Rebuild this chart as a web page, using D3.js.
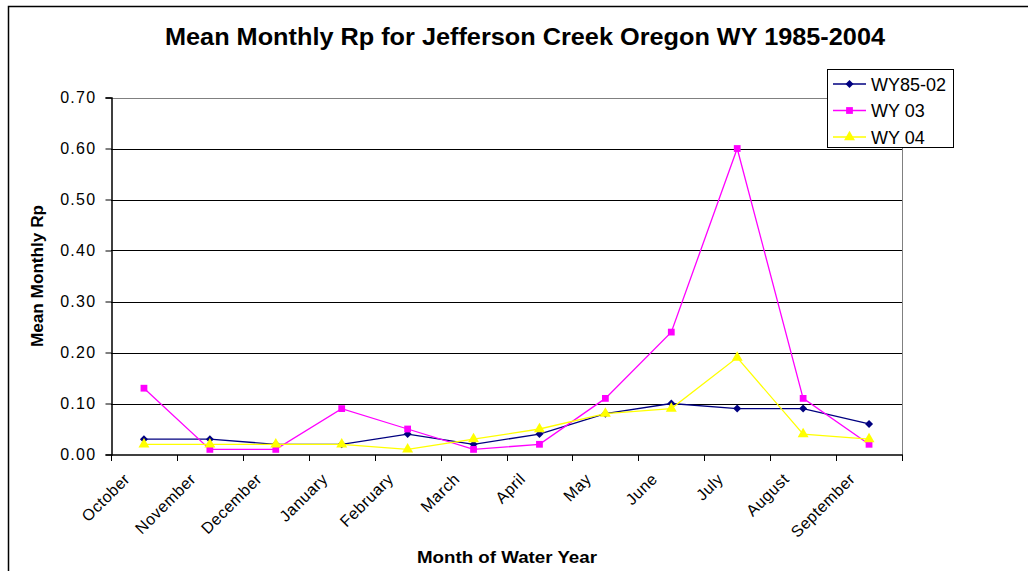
<!DOCTYPE html>
<html>
<head>
<meta charset="utf-8">
<script src="https://cdn.jsdelivr.net/npm/d3@7"></script>
<style>
body { margin: 0; background: #fff; }
svg { font-family: "Liberation Sans", Arial, sans-serif; }
</style>
</head>
<body>
<script>
var months = ["October","November","December","January","February","March","April","May","June","July","August","September"];
var wy8502 = [0.03,0.03,0.02,0.02,0.04,0.02,0.04,0.08,0.10,0.09,0.09,0.06];
var wy03 = [0.13,0.01,0.01,0.09,0.05,0.01,0.02,0.11,0.24,0.60,0.11,0.02];
var wy04 = [0.02,0.02,0.02,0.02,0.01,0.03,0.05,0.08,0.09,0.19,0.04,0.03];
var yTicks = [0,0.1,0.2,0.3,0.4,0.5,0.6,0.7];

// diamond = square turned 45 degrees
var series = [
    {name: "WY85-02", values: wy8502, color: "#000080", symbol: d3.symbolSquare, size: 32, rot: 45},
    {name: "WY 03", values: wy03, color: "#ff00ff", symbol: d3.symbolSquare, size: 46, rot: 0},
    {name: "WY 04", values: wy04, color: "#ffff00", symbol: d3.symbolTriangle, size: 52, rot: 0}
];

var width = 1028, height = 571;
var plotLeft = 111, plotRight = 902, plotTop = 97.5, plotBottom = 454.5;

var svg = d3.select("body").append("svg")
    .attr("width", width)
    .attr("height", height);

// outer chart border
svg.append("rect")
    .attr("x", 8.5).attr("y", 6.5)
    .attr("width", 1040).attr("height", 600)
    .attr("fill", "none").attr("stroke", "#000").attr("stroke-width", 1.5);

var x = d3.scaleBand().domain(months).range([plotLeft, plotRight]);
var y = d3.scaleLinear().domain([0, 0.7]).range([plotBottom, plotTop]);

// gridlines
svg.append("g").selectAll("line")
    .data(yTicks.slice(1))
    .enter().append("line")
    .attr("x1", plotLeft).attr("x2", plotRight)
    .attr("y1", function(d){ return Math.round(y(d)) + 0.5; })
    .attr("y2", function(d){ return Math.round(y(d)) + 0.5; })
    .attr("stroke", function(d){ return d == 0.7 ? "#808080" : "#000"; })
    .attr("stroke-width", 1);

// right border of plot area
svg.append("line")
    .attr("x1", plotRight + 0.5).attr("x2", plotRight + 0.5)
    .attr("y1", plotTop).attr("y2", plotBottom)
    .attr("stroke", "#808080");

// y axis
var yAxis = d3.axisLeft(y).tickValues(yTicks).tickSize(6).tickPadding(9)
    .tickFormat(d3.format(".2f"));
var gy = svg.append("g").attr("transform", "translate(" + (plotLeft + 0.5) + ",0)").call(yAxis);
gy.select(".domain").attr("stroke", "#000").attr("stroke-width", 1.5);
gy.selectAll(".tick line").attr("stroke", "#000");
gy.selectAll("text")
    .attr("font-size", 16)
    .attr("letter-spacing", 1.3)
    .attr("font-family", "Liberation Sans, Arial, sans-serif")
    .attr("fill", "#000");

// x axis: ticks at band boundaries
var gx = svg.append("g").attr("transform", "translate(0," + (plotBottom + 0.5) + ")");
gx.append("line").attr("x1", plotLeft).attr("x2", plotRight + 1)
    .attr("stroke", "#000").attr("stroke-width", 1.5);
var bounds = months.map(function(m){ return x(m); }).concat([plotRight]);
gx.selectAll(".tk").data(bounds).enter().append("line")
    .attr("x1", function(d){ return Math.round(d) + 0.5; })
    .attr("x2", function(d){ return Math.round(d) + 0.5; })
    .attr("y1", 0).attr("y2", 6)
    .attr("stroke", "#000");
gx.selectAll(".lbl").data(months).enter().append("text")
    .attr("transform", function(d){
        return "translate(" + (x(d) + x.bandwidth()/2 - 13) + ",25) rotate(-45)";
    })
    .attr("text-anchor", "end")
    .attr("font-size", 16)
    .attr("letter-spacing", 0.5)
    .attr("fill", "#000")
    .text(function(d){ return d; });

// lines and markers
var line = d3.line()
    .x(function(d, i){ return x(months[i]) + x.bandwidth()/2; })
    .y(function(d){ return y(d); });

series.forEach(function(s){
    svg.append("path")
        .datum(s.values)
        .attr("d", line)
        .attr("fill", "none")
        .attr("stroke", s.color)
        .attr("stroke-width", 1.3);
    svg.append("g").selectAll("path")
        .data(s.values)
        .enter().append("path")
        .attr("d", d3.symbol().type(s.symbol).size(s.size))
        .attr("transform", function(d, i){
            return "translate(" + (x(months[i]) + x.bandwidth()/2) + "," + y(d) + ") rotate(" + s.rot + ")";
        })
        .attr("fill", s.color);
});

// title
svg.append("text")
    .attr("x", 525).attr("y", 45)
    .attr("text-anchor", "middle")
    .attr("font-size", 23).attr("font-weight", "bold")
    .attr("textLength", 720).attr("lengthAdjust", "spacingAndGlyphs")
    .text("Mean Monthly Rp for Jefferson Creek Oregon WY 1985-2004");

svg.append("text")
    .attr("transform", "translate(43,276) rotate(-90)")
    .attr("text-anchor", "middle")
    .attr("font-size", 16).attr("font-weight", "bold")
    .attr("textLength", 142).attr("lengthAdjust", "spacingAndGlyphs")
    .text("Mean Monthly Rp");

svg.append("text")
    .attr("x", 507).attr("y", 563)
    .attr("text-anchor", "middle")
    .attr("font-size", 17).attr("font-weight", "bold")
    .attr("textLength", 180).attr("lengthAdjust", "spacingAndGlyphs")
    .text("Month of Water Year");

// legend
var legend = svg.append("g");
legend.append("rect")
    .attr("x", 827.5).attr("y", 69.5)
    .attr("width", 126).attr("height", 78)
    .attr("fill", "#fff").attr("stroke", "#000");
var rows = [84, 110.5, 137];
series.forEach(function(s, i){
    legend.append("line")
        .attr("x1", 833).attr("x2", 866)
        .attr("y1", rows[i]).attr("y2", rows[i])
        .attr("stroke", s.color).attr("stroke-width", 1.3);
    legend.append("path")
        .attr("d", d3.symbol().type(s.symbol).size(s.size))
        .attr("transform", "translate(849.5," + rows[i] + ") rotate(" + s.rot + ")")
        .attr("fill", s.color);
    legend.append("text")
        .attr("x", 871).attr("y", rows[i] + 6.5)
        .attr("font-size", 18)
        .text(s.name);
});
</script>
</body>
</html>
